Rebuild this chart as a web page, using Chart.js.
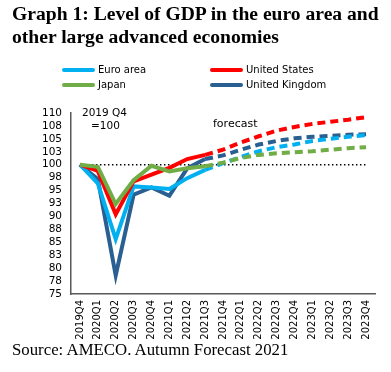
<!DOCTYPE html>
<html>
<head>
<meta charset="utf-8">
<script src="https://cdn.jsdelivr.net/npm/chart.js@4/dist/chart.umd.min.js"></script>
<style>
  body { margin: 0; background: #fff; }
  #wrap { position: relative; width: 391px; height: 372px; overflow: hidden; }
  #chart { position: absolute; left: 0; top: 0; }
  .title { position: absolute; left: 12px; top: 2px; font: bold 19.6px "Liberation Serif", serif; line-height: 23px; color: #000; white-space: nowrap; }
  .source { position: absolute; left: 12px; top: 340px; font: 16.8px "Liberation Serif", serif; color: #000; white-space: nowrap; }
  .note { position: absolute; font: 10.5px "DejaVu Sans", sans-serif; color: #000; white-space: nowrap; }
  .leg { position: absolute; font: 10px "DejaVu Sans", sans-serif; color: #000; white-space: nowrap; }
  .leg span { display: inline-block; width: 33px; height: 4px; vertical-align: middle; margin-right: 3px; border-radius: 2px; }
</style>
</head>
<body>
<div id="wrap">
  <canvas id="chart" width="391" height="372"></canvas>
  <div class="title">Graph 1: Level of GDP in the euro area and<br>other large advanced economies</div>
  <div id="legend"></div>
  <div class="note" style="left:82px; top:106px;">2019 Q4</div>
  <div class="note" style="left:91px; top:119px;">=100</div>
  <div class="note" style="left:213px; top:117px; font-size:11px;">forecast</div>
  <div class="source">Source: AMECO. Autumn Forecast 2021</div>
</div>
<script>
  // Data
  const quarters = ["2019Q4", "2020Q1", "2020Q2", "2020Q3", "2020Q4", "2021Q1", "2021Q2", "2021Q3",
    "2021Q4", "2022Q1", "2022Q2", "2022Q3", "2022Q4", "2023Q1", "2023Q2", "2023Q3", "2023Q4"];
  const euroArea = [100, 96.4, 85.6, 95.8, 95.6, 95.3, 97.4, 99.0, 100.3, 101.5, 102.6, 103.4, 103.9, 104.6, 105.0, 105.4, 105.7];
  const unitedStates = [100, 98.8, 90.4, 96.8, 98.1, 99.4, 101.1, 101.9, 102.9, 104.3, 105.5, 106.6, 107.3, 107.9, 108.3, 108.7, 109.2];
  const japan = [100, 99.6, 92.4, 97.0, 99.8, 98.7, 99.3, 99.7, 100.4, 101.3, 101.9, 102.2, 102.4, 102.6, 102.9, 103.2, 103.4];
  const unitedKingdom = [100, 97.2, 78.6, 94.2, 95.6, 94.0, 99.3, 101.1, 101.8, 102.9, 103.9, 104.6, 105.1, 105.4, 105.6, 105.8, 105.9];
  const baseline = quarters.map(() => 100);
  const yTickLabels = ["75", "78", "80", "83", "85", "88", "90", "93", "95", "98", "100", "103", "105", "108", "110"];
  const forecastFrom = 7; // segments after 2021Q3 are dashed

  const series = [
    { name: "Euro area", data: euroArea, color: "#00b0f0", order: 2 },
    { name: "United States", data: unitedStates, color: "#ff0000", order: 1 },
    { name: "Japan", data: japan, color: "#70ad47", order: 0 },
    { name: "United Kingdom", data: unitedKingdom, color: "#2a5f91", order: 3 }
  ];

  // Legend (two columns)
  const legendPos = [[62, 64], [210, 64], [62, 79], [210, 79]];
  document.getElementById("legend").innerHTML = series.map((s, i) =>
    `<div class="leg" style="left:${legendPos[i][0]}px; top:${legendPos[i][1]}px;"><span style="background:${s.color}"></span>${s.name}</div>`
  ).join("");

  const datasets = series.map(s => ({
    label: s.name,
    data: s.data,
    borderColor: s.color,
    borderWidth: 4,
    pointRadius: 0,
    tension: 0,
    order: s.order,
    borderCapStyle: "butt",
    segment: {
      borderDash: ctx => ctx.p0DataIndex >= forecastFrom ? [8, 5] : undefined
    }
  }));
  datasets.push({
    label: "100",
    data: baseline,
    borderColor: "#000",
    borderWidth: 1.5,
    borderDash: [1.5, 2.5],
    pointRadius: 0,
    order: 10
  });

  new Chart(document.getElementById("chart").getContext("2d"), {
    type: "line",
    data: { labels: quarters, datasets: datasets },
    options: {
      responsive: false,
      animation: false,
      layout: { padding: { left: 0, right: 16, top: 113, bottom: 28 } },
      plugins: { legend: { display: false }, tooltip: { enabled: false } },
      scales: {
        x: {
          offset: true,
          grid: { display: false, drawTicks: false },
          border: { display: true, color: "#595959", width: 1.5 },
          ticks: {
            autoSkip: false, maxRotation: 90, minRotation: 90, padding: 6,
            color: "#000", font: { family: "DejaVu Sans", size: 10 }
          },
          afterFit: scale => { scale.height = 50; }
        },
        y: {
          min: 75, max: 110,
          grid: { display: false, drawTicks: false },
          border: { display: true, color: "#595959", width: 1.5 },
          ticks: {
            stepSize: 2.5, autoSkip: false, padding: 9, color: "#000",
            font: { family: "DejaVu Sans", size: 10.5 },
            callback: (value, index) => yTickLabels[index]
          },
          afterFit: scale => { scale.width = 71; }
        }
      }
    }
  });
</script>
</body>
</html>
